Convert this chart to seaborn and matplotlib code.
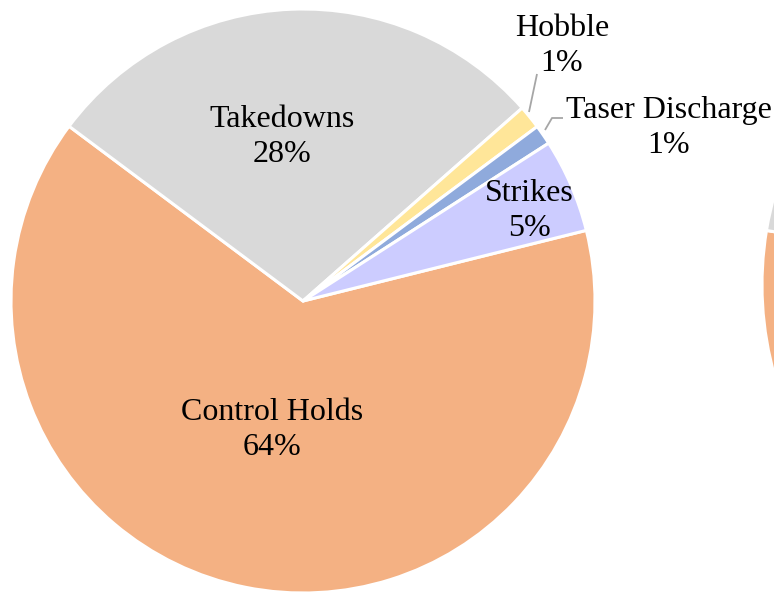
import matplotlib
matplotlib.use("Agg")
import matplotlib.pyplot as plt
import seaborn as sns

# Use-of-force breakdown (share of incidents, %)
categories = ["Control Holds", "Takedowns", "Hobble", "Taser Discharge", "Strikes"]
shares = [64.1, 28.3, 1.3, 1.1, 5.2]
colors = ["#F4B183", "#D9D9D9", "#FFE699", "#8FAADC", "#CCCCFF"]

# Companion pie (only its left rim falls inside the canvas)
side_categories = ["Control Holds", "Takedowns", "Other"]
side_shares = [56.5, 31.5, 12.0]
side_colors = ["#F4B183", "#D9D9D9", "#CCCCFF"]

sns.set_theme(style="white")
plt.rcParams["font.family"] = ["Liberation Serif", "DejaVu Serif"]

W, H = 774, 593
fig = plt.figure(figsize=(W / 100, H / 100), dpi=100)
ax = fig.add_axes([0, 0, 1, 1])

wedge_style = dict(edgecolor="white", linewidth=2.2)

ax.pie(shares, colors=colors, radius=292, center=(303, H - 301),
       startangle=14, counterclock=False, wedgeprops=wedge_style)
ax.pie(side_shares, colors=side_colors, radius=334, center=(1096, H - 285),
       startangle=14, counterclock=False, wedgeprops=wedge_style)

ax.set_xlim(0, W)
ax.set_ylim(0, H)
ax.set_aspect("equal")
ax.axis("off")

# Label placement in pixel space (x, y from top)
label_pos = {
    "Control Holds": (272, 430),
    "Takedowns": (282, 137),
    "Hobble": (562, 46),
    "Taser Discharge": (669, 128),
    "Strikes": (529, 211),
}
for name, val in zip(categories, shares):
    x, y = label_pos[name]
    ax.text(x, H - y, f"{name}\n{val:.0f}%", ha="center", va="center",
            fontsize=23, color="black", linespacing=1.3)

# Leader lines for the thin slices
lead = "#A6A6A6"
ax.plot([529, 537], [H - 112, H - 74], color=lead, lw=1.3, solid_capstyle="butt")
ax.plot([545, 552, 563], [H - 130, H - 118, H - 118], color=lead, lw=1.3,
        solid_capstyle="butt")

fig.savefig("out.png", dpi=100)
